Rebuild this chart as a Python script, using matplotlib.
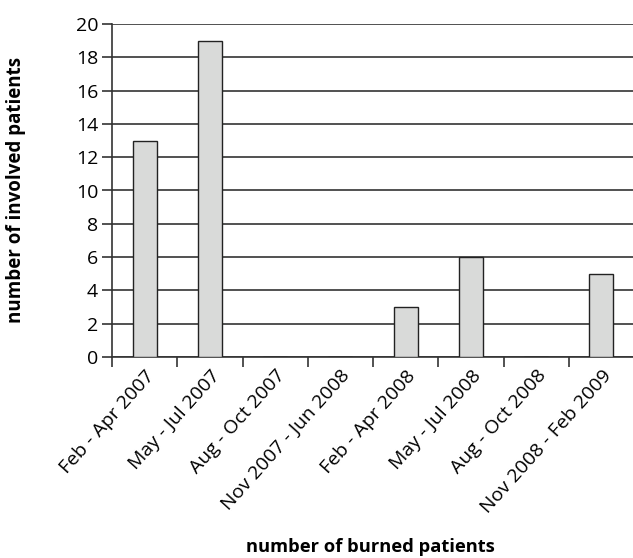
import matplotlib.pyplot as plt
import numpy as np

periods = ["Feb - Apr 2007", "May - Jul 2007", "Aug - Oct 2007",
           "Nov 2007 - Jun 2008", "Feb - Apr 2008", "May - Jul 2008",
           "Aug - Oct 2008", "Nov 2008 - Feb 2009"]
patients = [13, 19, 0, 0, 3, 6, 0, 5]

plt.rcParams['font.family'] = ['Open Sans', 'DejaVu Sans']

fig = plt.figure(figsize=(6.33, 5.58), dpi=100)
ax = fig.add_axes([112 / 633, 1 - 357 / 558, 522 / 633, 333 / 558])

x = np.arange(len(periods))
ax.bar(x + 0.5, patients, width=0.37, color='#d9dad9', edgecolor='#222222',
       linewidth=1.0, zorder=3)

ax.set_xlim(0, len(periods))
ax.set_ylim(0, 20)
ax.set_yticks(range(0, 21, 2))
# group boundaries carry the tick marks, labels sit under the bar centres
ax.set_xticks(x, minor=False)
ax.set_xticks(x + 0.5, minor=True)
ax.set_xticklabels([])
ax.set_xticklabels(periods, minor=True, rotation=48, ha='right',
                   rotation_mode='anchor', fontsize=14)
ax.tick_params(axis='x', which='minor', length=0, pad=7)
ax.tick_params(axis='x', which='major', length=7, width=1.2, color='#333333')
ax.tick_params(axis='y', length=7, width=1.2, color='#333333', labelsize=14, pad=3)

ax.grid(axis='y', color='#222222', linewidth=1.1, zorder=0)
for s in ['top', 'right']:
    ax.spines[s].set_visible(False)
ax.spines['left'].set_color('#333333')
ax.spines['left'].set_linewidth(1.2)
ax.spines['bottom'].set_color('#333333')
ax.spines['bottom'].set_linewidth(1.2)

fig.text(370 / 633, 1 - 547 / 558, "number of burned patients", ha='center',
         va='center', fontsize=13.2, fontweight='bold')
fig.text(16 / 633, 1 - 190 / 558, "number of involved patients", ha='center',
         va='center', rotation=90, fontsize=13.5, fontweight='bold')

fig.savefig("out.png", dpi=100)
